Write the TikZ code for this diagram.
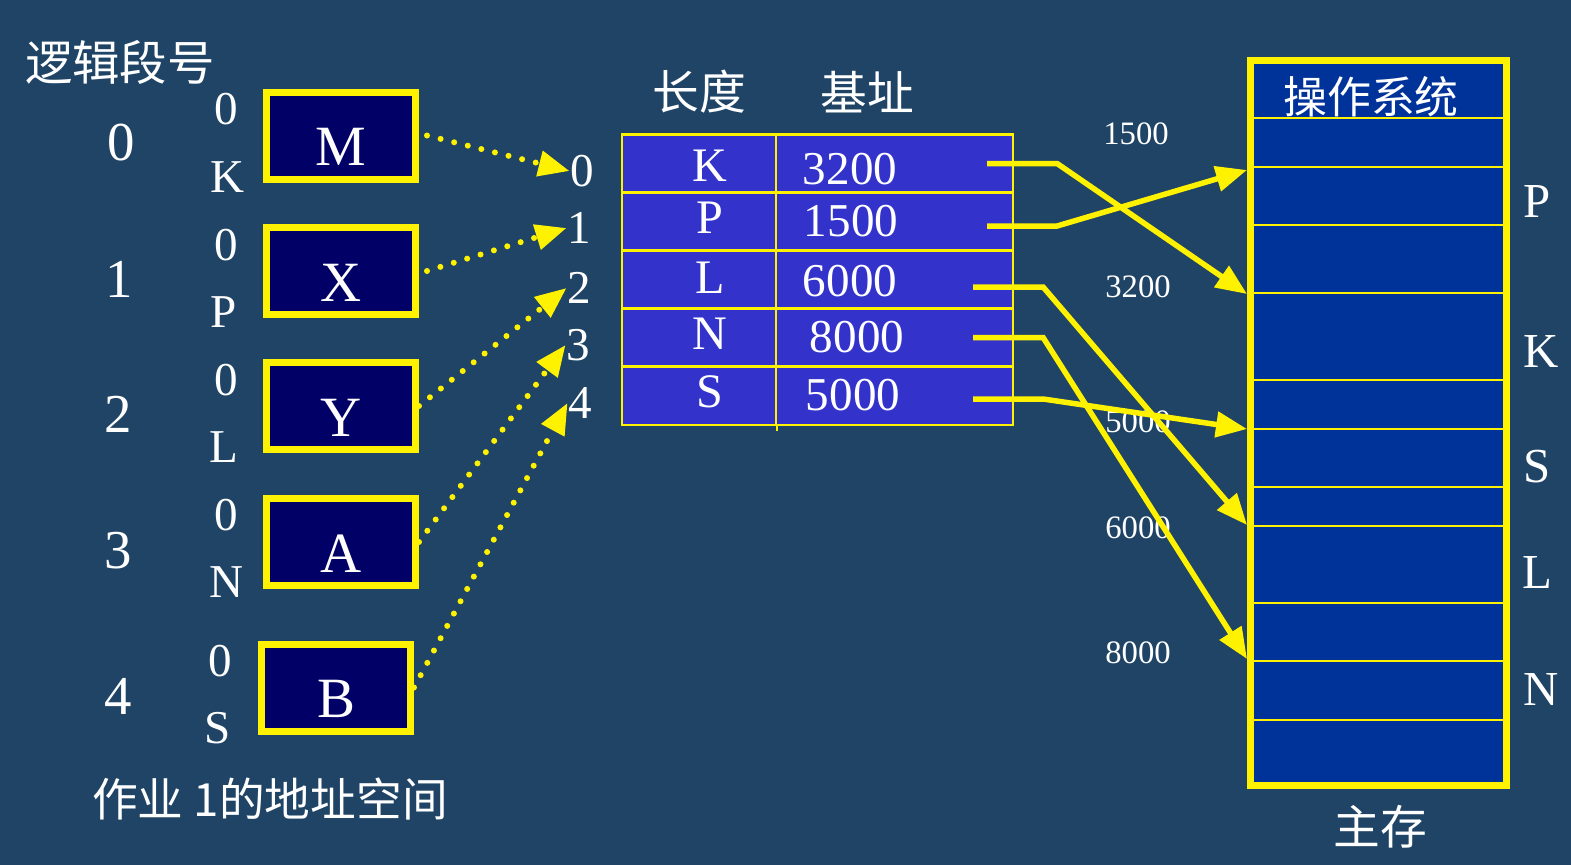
\documentclass[tikz,border=0pt]{standalone}
\usepackage{fontspec}
\setmainfont{Liberation Serif}
\newfontfamily\cjk{Noto Sans CJK SC}
\usetikzlibrary{arrows.meta,positioning}

\definecolor{bgblue}{RGB}{31,68,102}
\definecolor{boxnavy}{RGB}{0,0,102}
\definecolor{tabblue}{RGB}{51,51,204}
\definecolor{memblue}{RGB}{0,51,153}

\newcommand{\fs}[1]{\fontsize{#1}{#1}\selectfont}

\begin{document}
\begin{tikzpicture}[x=0.1mm, y=-0.1mm,
    every node/.style={text=white, inner sep=0pt},
    segbox/.style={draw=yellow, line width=0.7mm, fill=boxnavy,
      minimum width=14.9mm, minimum height=8.7mm,
      text height=6mm, text depth=0pt, font=\fs{16.2pt}},
    cell/.style={draw=yellow, line width=0.22mm, fill=tabblue, minimum height=5.8mm},
    dotarrow/.style={yellow, line width=0.6mm, line cap=round,
      dash pattern=on 0pt off 1.4mm, -{Triangle[length=3.1mm,width=2.5mm]}},
    conn/.style={yellow, line width=0.55mm, -{Triangle[length=3.1mm,width=2.5mm]}},
    memline/.style={yellow, line width=0.22mm}]

    % 1. 背景
    \fill[bgblue] (0,0) rectangle (1571,865);

    % 2. 作业的地址空间 (左侧)
    \node[font=\cjk\fs{13.5pt}] (title) at (120,62) {逻辑段号};
    \node[font=\cjk\fs{13pt}] (space) at (270,799) {作业 1的地址空间};

    \node[font=\fs{15.6pt}] (s0) at (121,143) {0};
    \node[font=\fs{15.6pt}] (s1) at (119,279) {1};
    \node[font=\fs{15.6pt}] (s2) at (118,414) {2};
    \node[font=\fs{15.6pt}] (s3) at (118,551) {3};
    \node[font=\fs{15.6pt}] (s4) at (118,696) {4};

    \node[font=\fs{13.4pt}] (zk) at (226,109) {0};
    \node[font=\fs{13.4pt}] (lk) at (228,177) {K};
    \node[font=\fs{13.4pt}] (zp) at (226,245) {0};
    \node[font=\fs{13.4pt}] (lp) at (224,312) {P};
    \node[font=\fs{13.4pt}] (zl) at (226,380) {0};
    \node[font=\fs{13.4pt}] (ll) at (224,447) {L};
    \node[font=\fs{13.4pt}] (zn) at (226,515) {0};
    \node[font=\fs{13.4pt}] (ln) at (227,582) {N};
    \node[font=\fs{13.4pt}] (zs) at (220,661) {0};
    \node[font=\fs{13.4pt}] (ls) at (218,728) {S};

    \node[segbox] (bM) at (341,135.5) {M};
    \node[segbox] (bX) at (341,271) {X};
    \node[segbox] (bY) at (341,406) {Y};
    \node[segbox] (bA) at (341,542) {A};
    \node[segbox] (bB) at (336,687.5) {B};

    % 3. 段号
    \node[font=\fs{13.4pt}] (n0) at (582,171) {0};
    \node[font=\fs{13.4pt}] (n1) at (579,228) {1};
    \node[font=\fs{13.4pt}] (n2) at (579,288) {2};
    \node[font=\fs{13.4pt}] (n3) at (578,345) {3};
    \node[font=\fs{13.4pt}] (n4) at (580,403) {4};

    \draw[dotarrow] ([xshift=0.8mm]bM.east) -- (n0.west);
    \draw[dotarrow] ([xshift=0.8mm]bX.east) -- (n1.west);
    \draw[dotarrow] (bY.east) -- (n2.west);
    \draw[dotarrow] (bA.east) -- (n3.west);
    \draw[dotarrow] (bB.east) -- (n4.west);

    % 4. 段表
    \node[font=\cjk\fs{13.3pt}] (hlen) at (699,92) {长度};
    \node[font=\cjk\fs{13.3pt}] (hbase) at (867,92) {基址};

    \foreach \seg/\bas/\yc/\yt/\xn/\nm in {K/3200/163.5/166/850/k, P/1500/222/218/851/p,
        L/6000/279.5/278/850/l, N/8000/337.5/334/857/n, S/5000/396/392/853/s} {
      \node[cell, minimum width=15.4mm] (c\nm L) at (699,\yc) {};
      \node[cell, minimum width=23.7mm] (c\nm) at (894.5,\yc) {};
      \node[font=\fs{13.7pt}] (t\nm) at (710,\yt) {\seg};
      \node[font=\fs{13.4pt}] (v\nm) at (\xn,\yt+3) {\bas};
    }
    \draw[yellow, line width=0.22mm] (csL.south east) -- ++(0,5);

    % 5. 主存
    \node[draw=yellow, line width=0.7mm, fill=memblue,
      minimum width=25.6mm, minimum height=72.5mm] (mem) at (1378.5,423) {};
    \foreach \y in {118,167,225,293,380,429,487,526,603,661,720}
      \draw[memline] (1254,\y) -- (1503,\y);

    \node[font=\cjk\fs{12.5pt}] (os) at (1371,97) {操作系统};
    \node[font=\cjk\fs{13.3pt}] (mainmem) at (1380,827) {主存};

    \node[font=\fs{13.9pt}] (mp) at (1537,202) {P};
    \node[font=\fs{13.9pt}] (mk) at (1541,352) {K};
    \node[font=\fs{13.9pt}] (ms) at (1537,467) {S};
    \node[font=\fs{13.9pt}] (ml) at (1537,573) {L};
    \node[font=\fs{13.9pt}] (mn) at (1541,690) {N};

    \node[font=\fs{9.3pt}] (d1500) at (1136,134) {1500};
    \node[font=\fs{9.3pt}] (d3200) at (1138,287) {3200};
    \node[font=\fs{9.3pt}] (d5000) at (1138,422) {5000};
    \node[font=\fs{9.3pt}] (d6000) at (1138,528) {6000};
    \node[font=\fs{9.3pt}] (d8000) at (1138,653) {8000};

    \coordinate (a1500) at (1247,170);
    \coordinate (a3200) at (1247,294);
    \coordinate (a5000) at (1247,429);
    \coordinate (a6000) at (1247,525);
    \coordinate (a8000) at (1247,659);

    % 6. 基址 -> 主存
    \draw[conn] ([xshift=-2.7mm]ck.east) -- ++(70,0) -- (a3200);
    \draw[conn] ([xshift=-2.7mm,yshift=-0.4mm]cp.east) -- ++(70,0) -- (a1500);
    \draw[conn] ([xshift=-4.1mm,yshift=-0.75mm]cl.east) -- ++(70,0) -- (a6000);
    \draw[conn] ([xshift=-4.1mm]cn.east) -- ++(70,0) -- (a8000);
    \draw[conn] ([xshift=-4.1mm,yshift=-0.3mm]cs.east) -- ++(70,0) -- (a5000);
\end{tikzpicture}
\end{document}
